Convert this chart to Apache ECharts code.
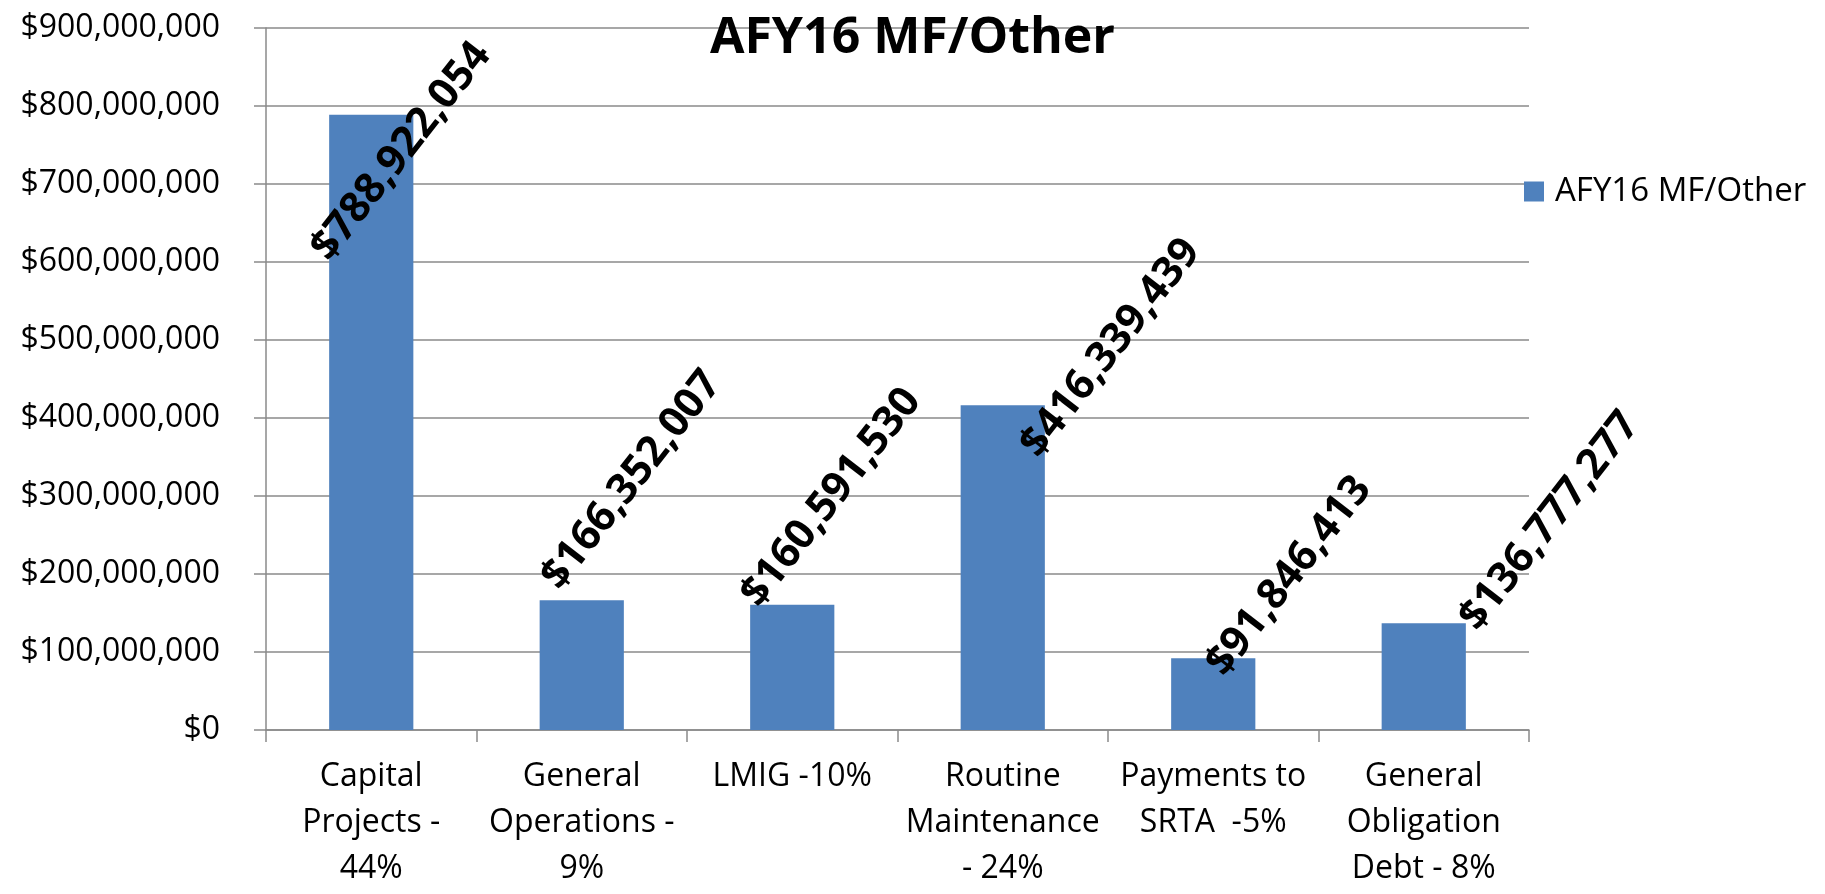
<!DOCTYPE html>
<html>
<head>
<meta charset="utf-8">
<title>AFY16 MF/Other</title>
<script src="https://cdn.jsdelivr.net/npm/echarts@6/dist/echarts.min.js"></script>
<style>
  html, body { margin: 0; padding: 0; background: #fff; }
  #chart { width: 1825px; height: 894px; }
</style>
</head>
<body>
<div id="chart"></div>
<script>
// categories as they are wrapped under the axis
var categories = [
  "Capital\nProjects -\n44%",
  "General\nOperations -\n9%",
  "LMIG -10%",
  "Routine\nMaintenance\n- 24%",
  "Payments to\nSRTA  -5%",
  "General\nObligation\nDebt - 8%"
];
var seriesName = "AFY16 MF/Other";
var values = [788922054, 166352007, 160591530, 416339439, 91846413, 136777277];
var yMin = 0;
var yMax = 900000000;
var yStep = 100000000;

// where each (hand placed) value label sits, screen px from the bar top centre
var labelShift = [[30, 37], [50, -120], [39, -107], [108, -57], [76, -82], [126, -102]];
var labelAngle = 52;

var font = "'Open Sans', sans-serif";

function money(v) {
  return "$" + Math.round(v).toLocaleString("en-US");
}

var myChart = echarts.init(document.getElementById("chart"));

// offset is rotated together with the label, so undo the rotation first
var rad = labelAngle * Math.PI / 180;
var barData = values.map(function (v, i) {
  var dx = labelShift[i][0], dy = labelShift[i][1];
  var ox = Math.cos(rad) * dx - Math.sin(rad) * dy;
  var oy = Math.sin(rad) * dx + Math.cos(rad) * dy;
  return { value: v, label: { offset: [ox, oy] } };
});

var option = {
  animation: false,
  backgroundColor: "#fff",
  title: {
    text: "AFY16 MF/Other",
    left: "center",
    top: 9,
    textStyle: { fontFamily: font, fontSize: 50, fontWeight: "bold", color: "#000" }
  },
  legend: {
    data: [seriesName],
    left: 1519,
    top: 170,
    itemWidth: 20,
    itemHeight: 20,
    icon: "rect",
    textStyle: { fontFamily: font, fontSize: 33, color: "#000", padding: [0, 0, 0, 6] }
  },
  grid: {
    left: 266,
    right: 296,
    top: 28,
    bottom: 164,
    outerBoundsMode: "none"
  },
  xAxis: {
    type: "category",
    data: categories,
    axisLine: { lineStyle: { color: "#8a8a8a", width: 1.5 } },
    axisTick: { show: true, length: 12, lineStyle: { color: "#8a8a8a", width: 1.5 } },
    axisLabel: {
      interval: 0,
      margin: 24,
      fontFamily: font,
      fontSize: 32,
      lineHeight: 46,
      color: "#000",
      align: "center"
    }
  },
  yAxis: {
    type: "value",
    min: yMin,
    max: yMax,
    interval: yStep,
    axisLine: { show: true, lineStyle: { color: "#8a8a8a", width: 1.5 } },
    axisTick: { show: true, length: 12, lineStyle: { color: "#8a8a8a", width: 1.5 } },
    splitLine: { lineStyle: { color: "#8a8a8a", width: 1.5 } },
    axisLabel: {
      margin: 46,
      fontFamily: font,
      fontSize: 32,
      color: "#000",
      formatter: money
    }
  },
  series: [
    {
      name: seriesName,
      type: "bar",
      data: barData,
      barWidth: "40%",
      itemStyle: { color: "#4f81bd" },
      label: {
        show: true,
        position: "top",
        distance: 0,
        rotate: labelAngle,
        align: "center",
        verticalAlign: "middle",
        fontFamily: font,
        fontSize: 42,
        fontWeight: "bold",
        color: "#000",
        formatter: function (p) { return money(p.value); }
      }
    }
  ]
};

window.onresize = myChart.resize;
myChart.setOption(option);
</script>
</body>
</html>
